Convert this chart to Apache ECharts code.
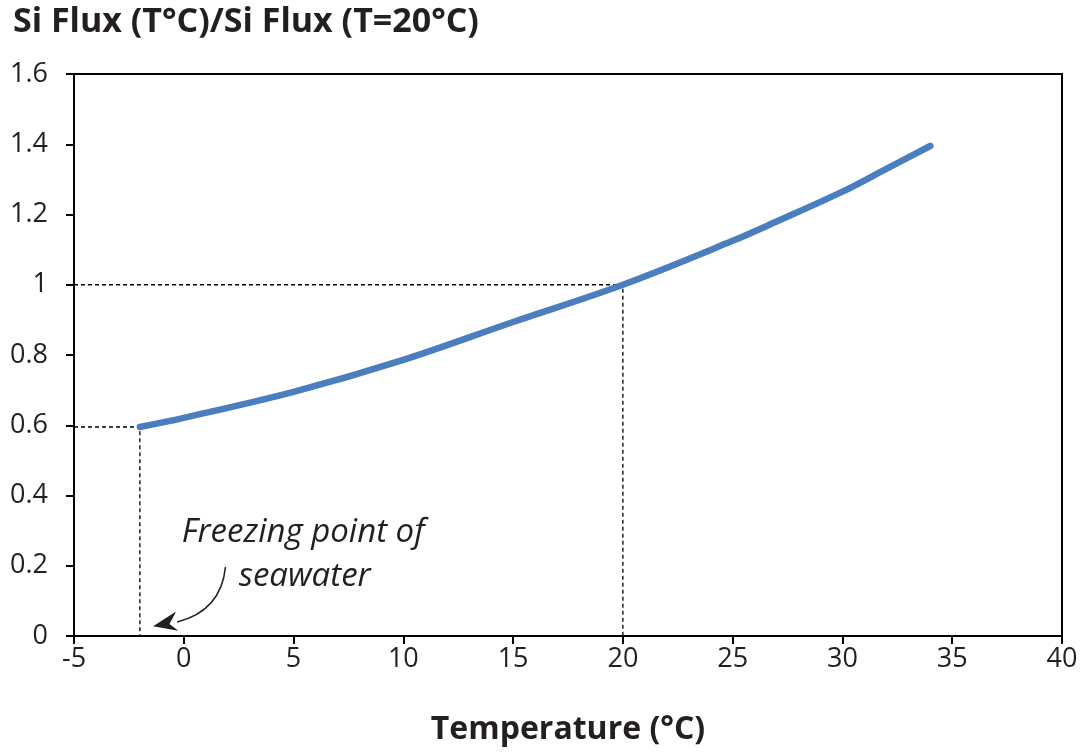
<!DOCTYPE html>
<html>
<head>
<meta charset="utf-8">
<script src="https://cdn.jsdelivr.net/npm/echarts@6/dist/echarts.min.js"></script>
<style>
html,body{margin:0;padding:0;background:#fff;}
#chart{width:1083px;height:754px;}
</style>
</head>
<body>
<div id="chart"></div>
<script>
// Data
var temperatures = [-2, 0, 5, 10, 15, 20, 25, 27, 30, 32, 34];
var fluxRatio    = [0.595, 0.621, 0.695, 0.786, 0.894, 1.0, 1.125, 1.18, 1.265, 1.33, 1.395];
var xTicks = [-5, 0, 5, 10, 15, 20, 25, 30, 35, 40];
var yTicks = [0, 0.2, 0.4, 0.6, 0.8, 1, 1.2, 1.4, 1.6];
var freezeGuide = [[-5, 0.595], [-2, 0.595], [-2, 0]];
var refGuide = [[-5, 1.0], [20, 1.0], [20, 0]];
var titleText = 'Si Flux (T\u00B0C)/Si Flux (T=20\u00B0C)';
var xName = 'Temperature (\u00B0C)';
var noteLines = ['Freezing point of', 'seawater'];

var FONT = '"Open Sans", "Noto Sans", sans-serif';
var chart = echarts.init(document.getElementById('chart'), null, {renderer: 'canvas'});

var lineData = temperatures.map(function (t, i) { return [t, fluxRatio[i]]; });

var option = {
  backgroundColor: '#ffffff',
  animation: false,
  title: {
    text: titleText,
    left: 8, top: 0,
    textStyle: {fontFamily: FONT, fontWeight: 'bold', fontSize: 34, color: '#231f20'}
  },
  grid: {
    left: 74, right: 21, top: 74, bottom: 118,
    show: true, borderColor: '#000', borderWidth: 2, containLabel: false
  },
  xAxis: {
    type: 'value', min: -5, max: 40, interval: 5,
    name: xName, nameLocation: 'middle', nameGap: 78,
    nameTextStyle: {fontFamily: FONT, fontWeight: 'bold', fontSize: 32, color: '#231f20'},
    axisLine: {show: true, onZero: false, lineStyle: {color: '#000', width: 2}},
    axisTick: {show: true, inside: false, length: 8, lineStyle: {color: '#000', width: 2}},
    axisLabel: {fontFamily: FONT, fontSize: 27, color: '#231f20', margin: 10,
      formatter: function (v) { return xTicks.indexOf(v) >= 0 ? String(v) : ''; }},
    splitLine: {show: false}
  },
  yAxis: {
    type: 'value', min: 0, max: 1.6, interval: 0.2,
    axisLine: {show: true, onZero: false, lineStyle: {color: '#000', width: 2}},
    axisTick: {show: true, inside: false, length: 8, lineStyle: {color: '#000', width: 2}},
    axisLabel: {fontFamily: FONT, fontSize: 27, color: '#231f20', margin: 26,
      formatter: function (v) {
        var r = Math.round(v * 10) / 10;
        return yTicks.indexOf(r) >= 0 ? String(r) : '';
      }},
    splitLine: {show: false}
  },
  series: [
    {
      type: 'line', data: freezeGuide, symbol: 'none', silent: true, z: 1,
      lineStyle: {color: '#000', width: 1.3, type: [4, 3]}
    },
    {
      type: 'line', data: refGuide, symbol: 'none', silent: true, z: 1,
      lineStyle: {color: '#000', width: 1.3, type: [4, 3]}
    },
    {
      type: 'line', data: lineData, symbol: 'none', smooth: 0.35, z: 3,
      lineStyle: {color: '#4a7ebf', width: 6.5, cap: 'round'}
    }
  ]
};
chart.setOption(option);

// annotation placed via data coordinates
function px(x, y) { return chart.convertToPixel({gridIndex: 0}, [x, y]); }
var t1 = px(-0.09, 0.295);
var t2 = px(2.5, 0.169);
var aStart = px(1.9, 0.197);
var aCtrl = px(1.7, 0.072);
var aEnd = px(-0.3, 0.04);
var tip = px(-1.4, 0.028);
var b1 = px(-0.35, 0.07);
var b2 = px(-0.25, 0.015);
var notch = px(-0.65, 0.034);

chart.setOption({
  graphic: [
    {type: 'text', x: t1[0], y: t1[1], style: {text: noteLines[0], font: 'italic 33px ' + FONT, fill: '#231f20', verticalAlign: 'middle', align: 'left'}},
    {type: 'text', x: t2[0], y: t2[1], style: {text: noteLines[1], font: 'italic 33px ' + FONT, fill: '#231f20', verticalAlign: 'middle', align: 'left'}},
    {type: 'bezierCurve', shape: {x1: aStart[0], y1: aStart[1], x2: aEnd[0], y2: aEnd[1], cpx1: aCtrl[0], cpy1: aCtrl[1]},
      style: {stroke: '#231f20', lineWidth: 1.5, fill: null}},
    {type: 'polygon', shape: {points: [tip, b1, notch, b2]}, style: {fill: '#231f20'}}
  ]
});
</script>
</body>
</html>
